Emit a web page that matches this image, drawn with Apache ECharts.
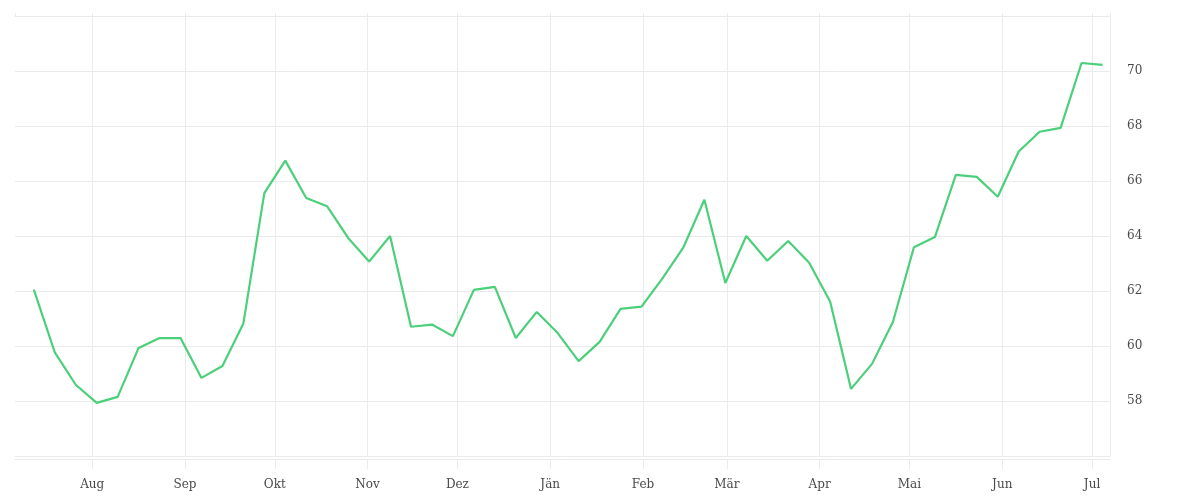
<!DOCTYPE html>
<html>
<head>
<meta charset="utf-8">
<script src="https://cdn.jsdelivr.net/npm/echarts@6/dist/echarts.min.js"></script>
<style>
  html, body { margin: 0; padding: 0; background: #fff; }
  #chart { width: 1200px; height: 500px; }
</style>
</head>
<body>
<div id="chart"></div>
<script>
// Weekly dates, July to July
const dates = [
  '2018-07-12', '2018-07-19', '2018-07-26',
  '2018-08-02', '2018-08-09', '2018-08-16', '2018-08-23', '2018-08-30',
  '2018-09-06', '2018-09-13', '2018-09-20', '2018-09-27',
  '2018-10-04', '2018-10-11', '2018-10-18', '2018-10-25',
  '2018-11-01', '2018-11-08', '2018-11-15', '2018-11-22', '2018-11-29',
  '2018-12-06', '2018-12-13', '2018-12-20', '2018-12-27',
  '2019-01-03', '2019-01-10', '2019-01-17', '2019-01-24', '2019-01-31',
  '2019-02-07', '2019-02-14', '2019-02-21', '2019-02-28',
  '2019-03-07', '2019-03-14', '2019-03-21', '2019-03-28',
  '2019-04-04', '2019-04-11', '2019-04-18', '2019-04-25',
  '2019-05-02', '2019-05-09', '2019-05-16', '2019-05-23', '2019-05-30',
  '2019-06-06', '2019-06-13', '2019-06-20', '2019-06-27',
  '2019-07-04'
];

const values = [
  62.05, 59.77, 58.59, 57.93, 58.15, 59.93, 60.29, 60.29, 58.84, 59.27,
  60.82, 65.56, 66.74, 65.38, 65.08, 63.93, 63.07, 64.00, 60.70, 60.78,
  60.36, 62.04, 62.15, 60.29, 61.24, 60.47, 59.45, 60.15, 61.35, 61.43,
  62.46, 63.59, 65.32, 62.29, 64.00, 63.10, 63.82, 63.03, 61.62, 58.44,
  59.35, 60.88, 63.59, 63.96, 66.22, 66.15, 65.43, 67.07, 67.79, 67.93,
  70.29, 70.22
];

const monthNames = ['Jän', 'Feb', 'Mär', 'Apr', 'Mai', 'Jun', 'Jul', 'Aug', 'Sep', 'Okt', 'Nov', 'Dez'];
const yTicks = [58, 60, 62, 64, 66, 68, 70];

const gridColor = '#ebebeb';
const textStyle = { fontFamily: 'DejaVu Serif', fontSize: 12, color: '#4a4a4a' };
const axisMin = '2018-07-06 05:00';
const axisMax = '2019-07-07 00:00';

const chart = echarts.init(document.getElementById('chart'));

const option = {
  animation: false,
  backgroundColor: '#fff',
  grid: { left: 15, right: 90, top: 16, bottom: 44 },
  xAxis: [{
    type: 'time',
    min: axisMin,
    max: axisMax,
    offset: 3,
    splitNumber: 12,
    minInterval: 28 * 24 * 3600 * 1000,
    axisLine: { show: true, lineStyle: { color: gridColor, width: 1 } },
    axisTick: { show: true, length: 10, lineStyle: { color: gridColor } },
    splitLine: { show: true, showMinLine: false, showMaxLine: false, lineStyle: { color: gridColor, width: 1 } },
    axisLabel: {
      ...textStyle,
      margin: 20,
      hideOverlap: false,
      showMinLabel: false,
      showMaxLabel: false,
      formatter: function (val) {
        const d = new Date(val);
        return d.getDate() === 1 ? monthNames[d.getMonth()] : '';
      }
    }
  }, {
    type: 'time',
    position: 'top',
    min: axisMin,
    max: axisMax,
    splitNumber: 12,
    minInterval: 28 * 24 * 3600 * 1000,
    axisLine: { show: true, lineStyle: { color: gridColor } },
    axisTick: { show: true, length: 3, lineStyle: { color: gridColor } },
    axisLabel: { show: false },
    splitLine: { show: false }
  }],
  yAxis: {
    type: 'value',
    position: 'right',
    min: 56,
    max: 72,
    interval: 2,
    axisLine: { show: true, lineStyle: { color: gridColor } },
    axisTick: { show: false },
    splitLine: { show: true, lineStyle: { color: gridColor, width: 1 } },
    axisLabel: {
      ...textStyle,
      margin: 17,
      formatter: function (v) { return yTicks.includes(v) ? String(v) : ''; }
    }
  },
  series: [{
    type: 'line',
    data: dates.map((d, i) => [d + 'T12:00:00', values[i]]),
    showSymbol: false,
    symbol: 'none',
    lineStyle: { color: '#4ccf7a', width: 2.2 },
    itemStyle: { color: '#4ccf7a' }
  }]
};

chart.setOption(option);
</script>
</body>
</html>
